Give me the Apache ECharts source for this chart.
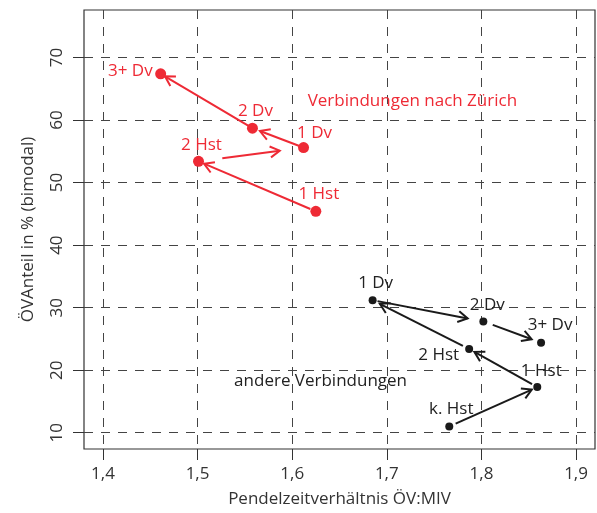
<!DOCTYPE html>
<html>
<head>
<meta charset="utf-8">
<script src="https://cdn.jsdelivr.net/npm/echarts@6/dist/echarts.min.js"></script>
<style>
  html, body { margin: 0; padding: 0; background: #fff; }
  #chart { width: 597px; height: 513px; }
</style>
</head>
<body>
<div id="chart"></div>
<script>
// tick values
var xTicks = [1.4, 1.5, 1.6, 1.7, 1.8, 1.9]
var yTicks = [10, 20, 30, 40, 50, 60, 70]

// Verbindungen nach Zürich
var zhNames = ['1 Hst', '2 Hst', '1 Dv', '2 Dv', '3+ Dv']
var zhX = [1.625, 1.501, 1.612, 1.558, 1.461]
var zhY = [45.4, 53.4, 55.6, 58.7, 67.4]

// andere Verbindungen
var otherNames = ['k. Hst', '1 Hst', '2 Hst', '1 Dv', '2 Dv', '3+ Dv']
var otherX = [1.766, 1.859, 1.787, 1.685, 1.802, 1.863]
var otherY = [11.0, 17.3, 23.4, 31.2, 27.8, 24.4]

var RED = '#ee2a35'
var BLACK = '#1a1a1a'
var FONT = 'Open Sans'
var FS = 17

// label placement (offset of text from point centre, px)
var zhLabelOff = [[3, -17], [3, -16], [11, -14], [3, -17], [-8, -3]]
var zhLabelAlign = ['center', 'center', 'center', 'center', 'right']
var otherLabelOff = [[2, -17], [4, -16], [-10, 6], [3, -17], [4, -16], [9, -18]]
var otherLabelAlign = ['center', 'center', 'right', 'center', 'center', 'center']

// arrow gaps at start / end (px)
var zhGaps = [[6, 6], [24, 24], [3, 8], [5, 5]]
var otherGaps = [[7, 6], [6, 6], [7, 8], [5, 16], [10, 10]]

function points (names, xs, ys, offs, aligns) {
  var out = []
  for (var i = 0; i < names.length; i++) {
    out.push({
      name: names[i],
      value: [xs[i], ys[i]],
      label: { offset: offs[i], align: aligns[i] }
    })
  }
  return out
}

function arrows (xs, ys, gaps) {
  var out = []
  for (var i = 0; i < xs.length - 1; i++) {
    out.push([xs[i], ys[i], xs[i + 1], ys[i + 1], gaps[i][0], gaps[i][1]])
  }
  return out
}

function arrowRender (color) {
  return function (params, api) {
    var a = api.coord([api.value(0), api.value(1)])
    var b = api.coord([api.value(2), api.value(3)])
    var g0 = api.value(4)
    var g1 = api.value(5)
    var dx = b[0] - a[0]
    var dy = b[1] - a[1]
    var len = Math.sqrt(dx * dx + dy * dy)
    var ux = dx / len
    var uy = dy / len
    var s = [a[0] + ux * g0, a[1] + uy * g0]
    var e = [b[0] - ux * g1, b[1] - uy * g1]
    var hl = 11
    var ang = Math.PI / 6
    var base = Math.atan2(-uy, -ux)
    var w1 = [e[0] + hl * Math.cos(base + ang), e[1] + hl * Math.sin(base + ang)]
    var w2 = [e[0] + hl * Math.cos(base - ang), e[1] + hl * Math.sin(base - ang)]
    var st = { stroke: color, lineWidth: 2, fill: null }
    return {
      type: 'group',
      children: [
        { type: 'line', shape: { x1: s[0], y1: s[1], x2: e[0], y2: e[1] }, style: st },
        { type: 'polyline', shape: { points: [w1, e, w2] }, style: st }
      ]
    }
  }
}

var axisText = { color: '#333', fontFamily: FONT, fontSize: FS }
var dashed = { show: true, lineStyle: { color: '#444', width: 1, type: [9, 8] } }

var chart = echarts.init(document.getElementById('chart'))
chart.setOption({
  animation: false,
  grid: {
    left: 84, right: 2, top: 10, bottom: 62,
    show: true, borderColor: '#333', borderWidth: 1.2, backgroundColor: 'transparent'
  },
  xAxis: {
    type: 'value', min: 1.38, max: 1.92,
    name: 'Pendelzeitverhältnis ÖV:MIV', nameLocation: 'middle', nameGap: 42,
    nameTextStyle: { color: '#333', fontFamily: FONT, fontSize: FS },
    axisLine: { show: false },
    axisTick: { show: true, inside: false, length: 11, customValues: xTicks, lineStyle: { color: '#333' } },
    axisLabel: Object.assign({ margin: 17, customValues: xTicks, formatter: function (v) { return v.toFixed(1).replace('.', ',') } }, axisText),
    splitLine: dashed
  },
  yAxis: {
    type: 'value', min: 7.4, max: 77.6,
    name: 'ÖVAnteil in % (bimodal)', nameLocation: 'middle', nameGap: 47,
    nameTextStyle: { color: '#333', fontFamily: FONT, fontSize: FS },
    axisLine: { show: false },
    axisTick: { show: true, inside: false, length: 11, customValues: yTicks, lineStyle: { color: '#333' } },
    axisLabel: Object.assign({ margin: 18, rotate: 90, customValues: yTicks }, axisText),
    splitLine: dashed
  },
  series: [
    {
      type: 'custom', renderItem: arrowRender(RED), data: arrows(zhX, zhY, zhGaps),
      encode: { x: [0, 2], y: [1, 3] }, silent: true, z: 3
    },
    {
      type: 'custom', renderItem: arrowRender(BLACK), data: arrows(otherX, otherY, otherGaps),
      encode: { x: [0, 2], y: [1, 3] }, silent: true, z: 3
    },
    {
      type: 'scatter', symbolSize: 11, itemStyle: { color: RED, opacity: 1 }, z: 4,
      data: points(zhNames, zhX, zhY, zhLabelOff, zhLabelAlign),
      label: { show: true, position: 'inside', formatter: '{b}', color: RED, fontFamily: FONT, fontSize: FS },
      markPoint: {
        symbol: 'rect', symbolSize: 0, silent: true,
        label: { show: true, position: 'inside', formatter: '{b}', color: RED, fontFamily: FONT, fontSize: FS },
        data: [{ name: 'Verbindungen nach Zürich', coord: [1.727, 63.1] }]
      }
    },
    {
      type: 'scatter', symbolSize: 8, itemStyle: { color: BLACK, opacity: 1 }, z: 4,
      data: points(otherNames, otherX, otherY, otherLabelOff, otherLabelAlign),
      label: { show: true, position: 'inside', formatter: '{b}', color: '#222', fontFamily: FONT, fontSize: FS },
      markPoint: {
        symbol: 'rect', symbolSize: 0, silent: true,
        label: { show: true, position: 'inside', formatter: '{b}', color: '#222', fontFamily: FONT, fontSize: FS },
        data: [{ name: 'andere Verbindungen', coord: [1.63, 18.25] }]
      }
    }
  ]
})
</script>
</body>
</html>
